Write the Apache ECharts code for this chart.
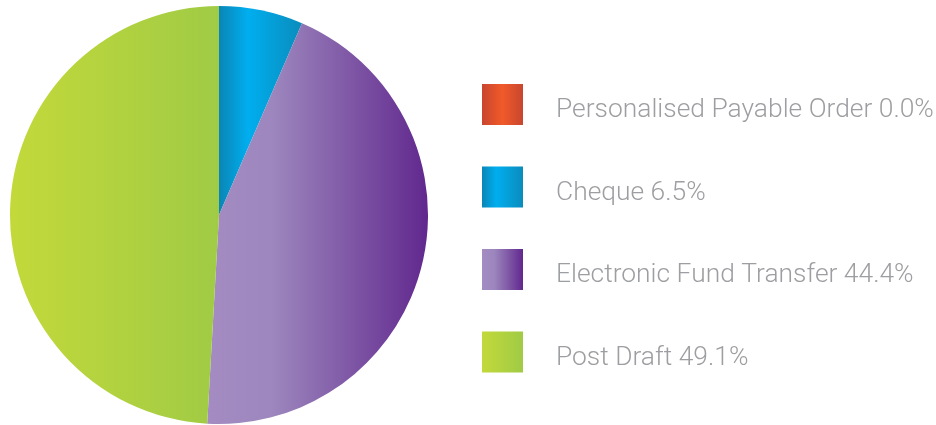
<!DOCTYPE html>
<html><head><meta charset="utf-8">
<script src="https://cdn.jsdelivr.net/npm/echarts@6/dist/echarts.min.js"></script>
<style>html,body{margin:0;padding:0;background:#fff}#c{width:936px;height:425px}</style>
</head><body><div id="c"></div>
<script>
const categories = ['Personalised Payable Order', 'Cheque', 'Electronic Fund Transfer', 'Post Draft'];
const values = [0.0, 6.5, 44.4, 49.1];
const labels = ['Personalised Payable Order 0.0%', 'Cheque 6.5%', 'Electronic Fund Transfer 44.4%', 'Post Draft 49.1%'];

function grad(stops) {
  return new echarts.graphic.LinearGradient(0, 0, 1, 0, stops.map(s => ({offset: s[0], color: s[1]})));
}
const colors = [
  grad([[0, '#c8462f'], [0.5, '#f15a29'], [1, '#c8462f']]),
  grad([[0, '#0a86b6'], [0.35, '#00aeef'], [1, '#0a8cbc']]),
  grad([[0, '#a48cc2'], [0.3, '#9c86bd'], [1, '#61288e']]),
  grad([[0, '#c3d93a'], [1, '#a0cb45']])
];

const chart = echarts.init(document.getElementById('c'), null, {renderer: 'canvas'});
chart.setOption({
  animation: false,
  legend: {
    orient: 'vertical',
    left: 482,
    top: 84,
    padding: 0,
    itemWidth: 41,
    itemHeight: 41,
    itemGap: 41.5,
    icon: 'rect',
    formatter: name => '{t|' + labels[categories.indexOf(name)] + '}',
    textStyle: {
      rich: {
        t: {
          fontFamily: 'Roboto',
          fontWeight: 300,
          fontSize: 26.4,
          color: '#9d9ea1',
          padding: [12, 0, 0, 28]
        }
      }
    },
    data: categories
  },
  series: [{
    type: 'pie',
    center: [219, 215],
    radius: 209,
    startAngle: 90,
    clockwise: true,
    label: {show: false},
    labelLine: {show: false},
    emphasis: {disabled: true},
    itemStyle: {borderWidth: 0},
    data: categories.map((c, i) => ({name: c, value: values[i], itemStyle: {color: colors[i]}}))
  }]
});
</script></body></html>
